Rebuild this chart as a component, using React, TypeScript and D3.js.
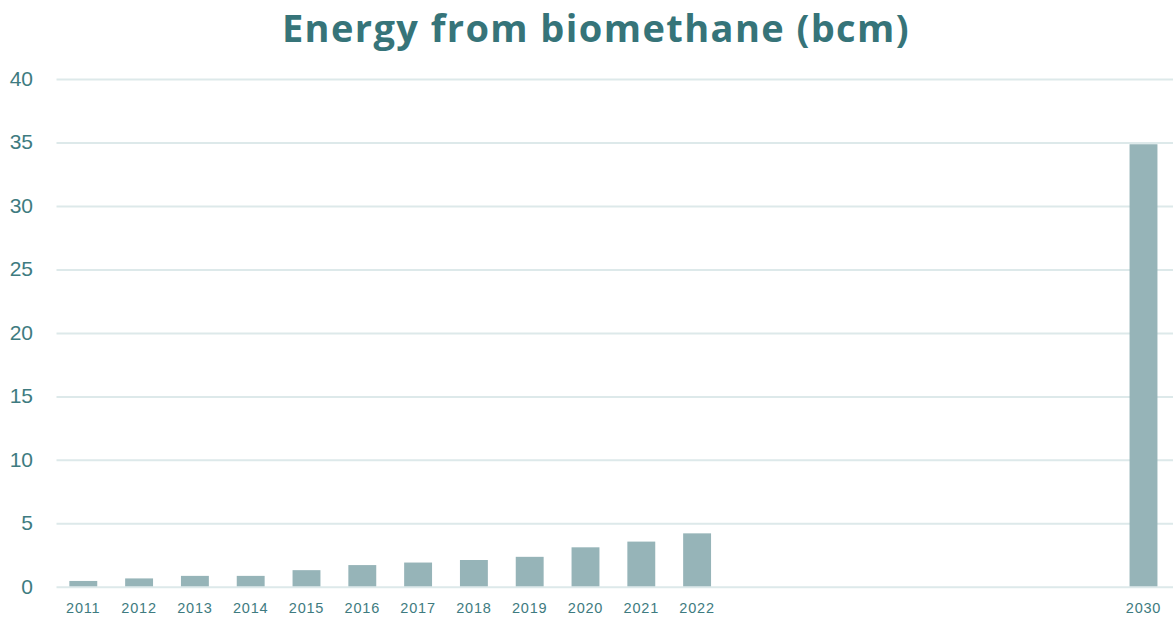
import React, { useEffect, useRef } from "react";
import * as d3 from "d3";

const allYears = [
  "2011", "2012", "2013", "2014", "2015", "2016", "2017", "2018", "2019", "2020",
  "2021", "2022", "2023", "2024", "2025", "2026", "2027", "2028", "2029", "2030",
];
const dataYears = ["2011", "2012", "2013", "2014", "2015", "2016", "2017", "2018", "2019", "2020", "2021", "2022", "2030"];
const values = [0.5, 0.7, 0.9, 0.9, 1.35, 1.75, 1.95, 2.15, 2.4, 3.15, 3.6, 4.25, 34.9];
const yTicks = [0, 5, 10, 15, 20, 25, 30, 35, 40];
const title = "Energy from biomethane (bcm)";

const W = 1173;
const H = 619;

export default function App() {
  const ref = useRef<SVGSVGElement>(null);

  useEffect(() => {
    const svg = d3.select(ref.current);
    svg.selectAll("*").remove();

    const x = d3.scaleBand<string>().domain(allYears).range([55.4, 1171.4]).paddingInner(0.5).paddingOuter(0.25);
    const y = d3.scaleLinear().domain([0, 40]).range([587.3, 79.5]);

    const textColor = "#3e7b80";

    svg
      .append("text")
      .attr("x", 596)
      .attr("y", 42)
      .attr("text-anchor", "middle")
      .attr("font-family", "'Open Sans', sans-serif")
      .attr("font-weight", 700)
      .attr("font-size", 38)
      .attr("letter-spacing", 1.4)
      .attr("fill", "#367479")
      .text(title);

    const grid = svg.append("g");
    grid
      .selectAll("line")
      .data(yTicks)
      .join("line")
      .attr("x1", 56.5)
      .attr("x2", W)
      .attr("y1", (d) => y(d))
      .attr("y2", (d) => y(d))
      .attr("stroke", "#dde9ea")
      .attr("stroke-width", 2);

    svg
      .append("g")
      .selectAll("text")
      .data(yTicks)
      .join("text")
      .attr("x", 33)
      .attr("y", (d) => y(d))
      .attr("dy", "0.3em")
      .attr("text-anchor", "end")
      .attr("font-family", "'Liberation Sans', Arial, sans-serif")
      .attr("font-size", 21)
      .attr("fill", textColor)
      .text((d) => String(d));

    svg
      .append("g")
      .selectAll("rect")
      .data(dataYears)
      .join("rect")
      .attr("x", (d) => x(d)!)
      .attr("width", x.bandwidth())
      .attr("y", (d, i) => y(values[i]))
      .attr("height", (d, i) => y(0) - y(values[i]) - 1)
      .attr("fill", "#96b4b8");

    svg
      .append("g")
      .selectAll("text")
      .data(dataYears)
      .join("text")
      .attr("x", (d) => x(d)! + x.bandwidth() / 2)
      .attr("y", 612.5)
      .attr("text-anchor", "middle")
      .attr("font-family", "'Liberation Sans', Arial, sans-serif")
      .attr("font-size", 14.5)
      .attr("letter-spacing", 0.8)
      .attr("fill", textColor)
      .text((d) => d);
  }, []);

  return (
    <svg
      ref={ref}
      width={W}
      height={H}
      style={{ position: "absolute", left: 0, top: 0, background: "#ffffff" }}
    />
  );
}
